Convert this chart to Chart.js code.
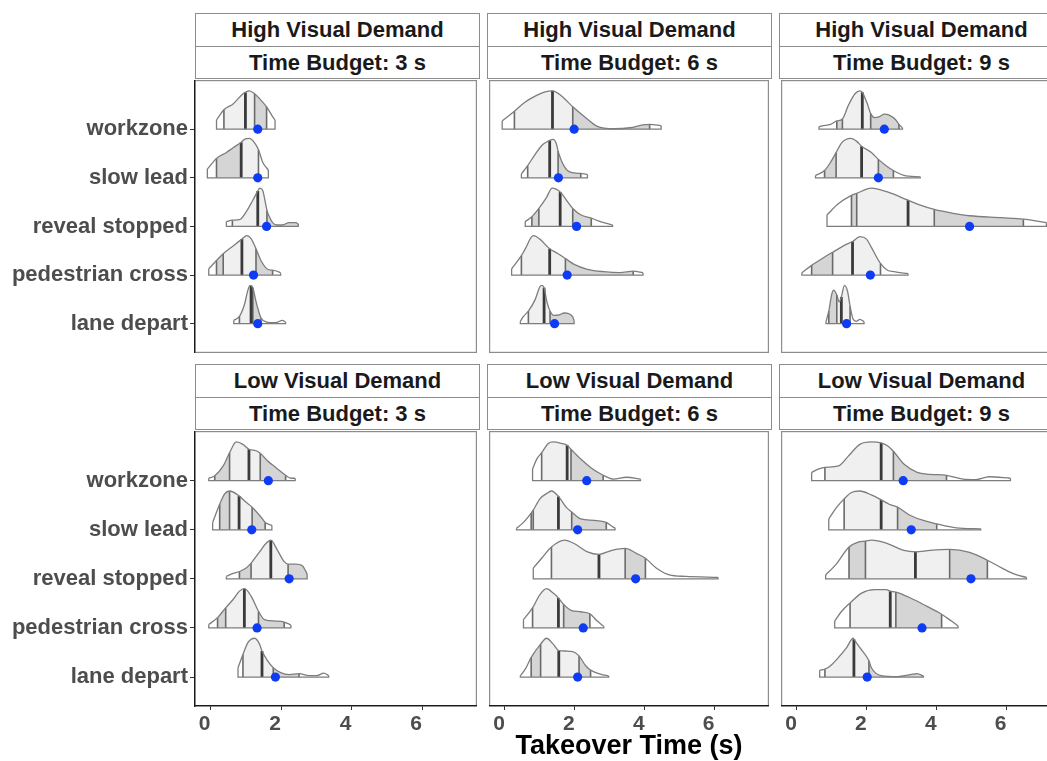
<!DOCTYPE html>
<html>
<head>
<meta charset="utf-8">
<script src="https://cdn.jsdelivr.net/npm/chart.js@4"></script>
<style>
  html, body { margin: 0; padding: 0; background: #fff; width: 1047px; height: 761px; overflow: hidden; }
  #stage { position: relative; width: 1047px; height: 761px; overflow: hidden; font-family: "Liberation Sans", Arial, sans-serif; }
  canvas { position: absolute; }
  .strip { position: absolute; box-sizing: border-box; border: 1px solid #8c8c8c; background: #fff;
           display: flex; align-items: center; justify-content: center;
           font-weight: bold; font-size: 22px; color: #1a1a1a; white-space: nowrap; }
  #xtitle { position: absolute; left: 195px; width: 868px; top: 732px; line-height: 27px; text-align: center;
            font-weight: bold; font-size: 27px; color: #000; }
</style>
</head>
<body>
<div id="stage"></div>
<script>
// ---- categories and labels ----
const rowOrder = ['workzone', 'slow lead', 'reveal stopped', 'pedestrian cross', 'lane depart'];
const demandLabels = ['High Visual Demand', 'Low Visual Demand'];
const budgetLabels = ['Time Budget: 3 s', 'Time Budget: 6 s', 'Time Budget: 9 s'];
const xTicks = [0, 2, 4, 6];
const xTitle = 'Takeover Time (s)';

// Each curve: [takeover time, ridge height] along the top of the density, listed workzone -> lane depart.
// Cuts: quantile lines; shades: fill of each band between cuts (w = white, l = light, g = grey).

// High visual demand, 3 s budget
const hv3Curves = [
  [[0.17,0.19],[0.38,0.40],[0.64,0.52],[0.92,0.73],[0.99,0.76],[1.10,0.79],[1.25,0.73],[1.39,0.63],[1.59,0.46],[1.76,0.26],[1.83,0.19]],
  [[-0.09,0.18],[0.17,0.40],[0.45,0.52],[0.64,0.62],[0.87,0.73],[0.96,0.79],[1.10,0.81],[1.25,0.72],[1.36,0.58],[1.48,0.32],[1.64,0.16]],
  [[0.45,0.10],[0.62,0.13],[0.82,0.14],[1.01,0.30],[1.20,0.54],[1.34,0.73],[1.40,0.79],[1.48,0.74],[1.57,0.44],[1.60,0.33],[1.67,0.20],[1.76,0.08],[1.90,0.03],[2.04,0.03],[2.23,0.08],[2.42,0.08],[2.49,0.05]],
  [[-0.05,0.13],[0.17,0.30],[0.36,0.44],[0.64,0.60],[0.89,0.74],[1.03,0.81],[1.15,0.75],[1.29,0.54],[1.43,0.30],[1.62,0.12],[1.76,0.10],[1.95,0.06],[1.99,0.04]],
  [[0.66,0.07],[0.82,0.15],[0.96,0.39],[1.06,0.69],[1.12,0.79],[1.15,0.78],[1.20,0.74],[1.27,0.52],[1.34,0.32],[1.43,0.12],[1.57,0.04],[1.85,0.02],[2.04,0.07],[2.13,0.03]]
];
const hv3Cuts = [[0.38,0.99,1.25,1.59],[0.17,0.87,1.36],[0.62,1.34,1.60],[0.17,0.36,0.89,1.29,1.76],[0.82,1.15,1.20,1.43]];
const hv3Medians = [0.99, 0.87, 1.34, 0.89, 1.15];
const hv3Shades = ['wllgw', 'wglw', 'wllg', 'wgllgw', 'wllgw'];
const hv3Means = [1.34, 1.34, 1.59, 1.22, 1.34];

// High visual demand, 6 s budget
const hv6Curves = [
  [[-0.08,0.17],[0.27,0.37],[0.58,0.56],[0.95,0.71],[1.15,0.77],[1.36,0.79],[1.61,0.69],[1.94,0.46],[2.27,0.26],[2.64,0.06],[3.11,0.01],[3.58,0.03],[3.95,0.09],[4.14,0.10],[4.47,0.07]],
  [[0.47,0.08],[0.65,0.25],[0.86,0.48],[1.09,0.69],[1.28,0.77],[1.38,0.79],[1.47,0.70],[1.52,0.55],[1.70,0.23],[1.89,0.11],[2.17,0.09],[2.36,0.07]],
  [[0.58,0.10],[0.77,0.20],[0.97,0.37],[1.19,0.60],[1.35,0.79],[1.58,0.71],[1.80,0.50],[1.94,0.37],[2.17,0.24],[2.47,0.17],[2.73,0.10],[3.08,0.03]],
  [[0.19,0.13],[0.47,0.40],[0.58,0.54],[0.81,0.81],[1.00,0.74],[1.28,0.54],[1.52,0.44],[1.73,0.34],[1.98,0.22],[2.36,0.12],[2.83,0.07],[3.29,0.05],[3.67,0.08],[3.95,0.05]],
  [[0.44,0.05],[0.53,0.15],[0.67,0.26],[0.86,0.49],[1.00,0.76],[1.05,0.79],[1.12,0.74],[1.20,0.45],[1.29,0.26],[1.40,0.17],[1.55,0.18],[1.70,0.22],[1.82,0.21],[1.94,0.14],[1.98,0.06]]
];
const hv6Cuts = [[0.27,1.36,1.94,4.14],[0.65,1.28,1.52,2.17],[0.77,0.97,1.58,1.94,2.47],[0.47,1.28,1.73,3.67],[0.67,1.12,1.29]];
const hv6Medians = [1.36, 1.28, 1.58, 1.28, 1.12];
const hv6Shades = ['wllgw', 'wllgw', 'wgllgw', 'wllgw', 'wllg'];
const hv6Means = [1.98, 1.53, 2.05, 1.78, 1.42];

// High visual demand, 9 s budget
const hv9Curves = [
  [[0.63,0.05],[0.72,0.07],[0.96,0.10],[1.14,0.17],[1.30,0.21],[1.47,0.49],[1.66,0.73],[1.80,0.79],[1.87,0.76],[2.03,0.49],[2.11,0.32],[2.22,0.24],[2.36,0.26],[2.50,0.31],[2.64,0.29],[2.83,0.19],[2.92,0.10],[3.02,0.03]],
  [[0.53,0.05],[0.79,0.15],[0.96,0.32],[1.12,0.52],[1.28,0.72],[1.54,0.81],[1.71,0.75],[1.85,0.65],[2.13,0.52],[2.33,0.38],[2.55,0.25],[2.76,0.15],[3.06,0.05],[3.53,0.02]],
  [[0.86,0.24],[1.19,0.47],[1.56,0.64],[1.71,0.68],[2.13,0.79],[2.59,0.71],[3.18,0.54],[3.53,0.44],[3.93,0.35],[4.47,0.27],[4.94,0.22],[5.87,0.18],[6.48,0.15],[7.14,0.08]],
  [[0.14,0.05],[0.42,0.20],[0.72,0.34],[1.02,0.47],[1.33,0.60],[1.59,0.69],[1.80,0.79],[1.99,0.74],[2.13,0.57],[2.39,0.24],[2.59,0.10],[2.78,0.07],[3.06,0.04],[3.18,0.03]],
  [[0.83,0.04],[0.91,0.26],[1.00,0.62],[1.05,0.69],[1.14,0.59],[1.21,0.45],[1.27,0.55],[1.36,0.79],[1.45,0.66],[1.52,0.36],[1.61,0.09],[1.71,0.05],[1.80,0.09],[1.92,0.04]]
];
const hv9Cuts = [[1.14,1.30,1.87,2.11,2.92],[0.79,1.12,1.85,2.33,2.76],[1.56,1.71,3.18,3.93,6.48],[0.42,1.02,1.59,2.39],[0.91,1.14,1.27,1.52]];
const hv9Medians = [1.87, 1.85, 3.18, 1.59, 1.27];
const hv9Shades = ['wgllgw', 'wgllgw', 'wgllgw', 'wgllw', 'wgllw'];
const hv9Means = [2.50, 2.33, 4.94, 2.10, 1.42];

// Low visual demand, 3 s budget
const lv3Curves = [
  [[-0.05,0.05],[0.12,0.10],[0.36,0.30],[0.54,0.57],[0.73,0.79],[0.92,0.74],[1.09,0.64],[1.29,0.61],[1.41,0.56],[1.62,0.40],[1.85,0.27],[2.13,0.11],[2.28,0.05],[2.40,0.05]],
  [[0.06,0.15],[0.26,0.52],[0.40,0.73],[0.54,0.79],[0.81,0.69],[1.01,0.56],[1.18,0.46],[1.43,0.26],[1.55,0.15],[1.74,0.09]],
  [[0.45,0.05],[0.64,0.11],[0.82,0.15],[1.01,0.22],[1.15,0.32],[1.39,0.55],[1.57,0.72],[1.71,0.79],[1.90,0.58],[2.09,0.35],[2.20,0.30],[2.42,0.30],[2.60,0.27],[2.74,0.10]],
  [[-0.05,0.07],[0.20,0.21],[0.43,0.41],[0.64,0.58],[0.82,0.75],[0.96,0.80],[1.15,0.65],[1.36,0.34],[1.53,0.17],[1.85,0.14],[2.09,0.12],[2.28,0.06]],
  [[0.78,0.19],[0.92,0.46],[1.06,0.70],[1.25,0.79],[1.39,0.67],[1.46,0.53],[1.62,0.33],[1.78,0.19],[1.99,0.09],[2.23,0.05],[2.51,0.07],[2.79,0.03],[3.02,0.03],[3.21,0.08],[3.35,0.03]]
];
const lv3Cuts = [[0.12,0.54,1.09,1.41,2.13],[0.26,0.54,0.81,1.18,1.55],[0.82,1.15,1.71,2.20],[0.20,0.43,0.96,1.36,2.09],[0.92,1.46,1.78,2.51]];
const lv3Medians = [1.09, 0.81, 1.71, 0.96, 1.46];
const lv3Shades = ['wgllgw', 'wgllgw', 'wgllg', 'wgllgw', 'wllgw'];
const lv3Means = [1.64, 1.17, 2.23, 1.32, 1.84];

// Low visual demand, 6 s budget
const lv6Curves = [
  [[0.79,0.24],[0.91,0.44],[1.05,0.57],[1.24,0.76],[1.38,0.79],[1.61,0.76],[1.78,0.72],[1.89,0.64],[2.17,0.44],[2.45,0.27],[2.81,0.11],[3.11,0.03],[3.48,0.07],[3.88,0.03]],
  [[0.33,0.03],[0.53,0.15],[0.75,0.34],[0.81,0.40],[1.00,0.63],[1.24,0.76],[1.33,0.79],[1.53,0.68],[1.75,0.46],[1.91,0.36],[2.17,0.22],[2.55,0.19],[2.90,0.15],[3.11,0.05],[3.15,0.04]],
  [[0.81,0.22],[1.05,0.42],[1.33,0.65],[1.70,0.79],[1.98,0.72],[2.36,0.55],[2.69,0.50],[3.06,0.58],[3.44,0.62],[3.76,0.52],[4.02,0.42],[4.33,0.22],[4.70,0.08],[5.17,0.05],[6.10,0.03]],
  [[0.53,0.17],[0.79,0.41],[1.00,0.68],[1.19,0.80],[1.38,0.71],[1.53,0.61],[1.68,0.48],[1.89,0.36],[2.17,0.33],[2.43,0.29],[2.64,0.14],[2.83,0.03]],
  [[0.44,0.03],[0.58,0.16],[0.75,0.40],[1.02,0.67],[1.19,0.79],[1.38,0.67],[1.54,0.54],[1.75,0.53],[1.94,0.52],[2.12,0.43],[2.31,0.23],[2.45,0.14],[2.73,0.06],[2.97,0.02]]
];
const lv6Cuts = [[1.05,1.78,1.89,2.81],[0.75,0.81,1.53,1.91,2.90],[1.33,2.69,3.44,4.02],[0.79,1.53,1.68,2.43],[0.75,1.02,1.54,2.12,2.45]];
const lv6Medians = [1.78, 1.53, 2.69, 1.53, 1.54];
const lv6Shades = ['wllgw', 'wgllgw', 'wllgw', 'wllgw', 'wgllgw'];
const lv6Means = [2.34, 2.08, 3.74, 2.24, 2.08];

// Low visual demand, 9 s budget
const lv9Curves = [
  [[0.42,0.17],[0.63,0.24],[0.80,0.27],[1.19,0.30],[1.47,0.50],[1.80,0.74],[2.13,0.79],[2.41,0.77],[2.59,0.71],[2.76,0.60],[3.06,0.34],[3.44,0.17],[3.81,0.13],[4.28,0.11],[4.75,0.03],[5.12,0.02],[5.50,0.08],[6.11,0.05]],
  [[0.91,0.22],[1.14,0.46],[1.35,0.63],[1.56,0.76],[1.80,0.79],[2.13,0.71],[2.41,0.61],[2.64,0.52],[2.88,0.46],[3.25,0.29],[3.62,0.19],[4.00,0.12],[4.56,0.04],[5.26,0.02]],
  [[0.82,0.08],[1.10,0.28],[1.49,0.65],[1.75,0.75],[1.96,0.77],[2.13,0.79],[2.59,0.72],[3.06,0.58],[3.39,0.55],[3.81,0.58],[4.37,0.60],[4.94,0.54],[5.45,0.38],[5.87,0.22],[6.25,0.09],[6.57,0.03]],
  [[1.08,0.14],[1.28,0.34],[1.52,0.51],[1.85,0.71],[2.22,0.78],[2.55,0.78],[2.67,0.75],[2.83,0.73],[3.25,0.61],[3.72,0.44],[4.14,0.28],[4.42,0.14],[4.61,0.04]],
  [[0.65,0.14],[0.80,0.16],[0.96,0.23],[1.19,0.40],[1.42,0.60],[1.61,0.79],[1.63,0.77],[1.80,0.60],[2.06,0.33],[2.13,0.19],[2.41,0.03],[2.88,0.01],[3.25,0.05],[3.44,0.07],[3.62,0.02]]
];
const lv9Cuts = [[0.80,2.41,2.76,4.28],[1.35,2.41,2.88,4.00],[1.49,1.96,3.39,4.37,5.45],[1.52,2.67,2.83,4.14],[0.80,1.63,2.06]];
const lv9Medians = [2.41, 2.41, 3.39, 2.67, 1.63];
const lv9Shades = ['wllgw', 'wllgw', 'wgllgw', 'wllgw', 'wllg'];
const lv9Means = [3.04, 3.27, 4.98, 3.58, 2.01];

// ---- facet table (row-major: demand rows, budget columns) ----
const panels = [
  { curves: hv3Curves, cuts: hv3Cuts, medians: hv3Medians, shades: hv3Shades, means: hv3Means },
  { curves: hv6Curves, cuts: hv6Cuts, medians: hv6Medians, shades: hv6Shades, means: hv6Means },
  { curves: hv9Curves, cuts: hv9Cuts, medians: hv9Medians, shades: hv9Shades, means: hv9Means },
  { curves: lv3Curves, cuts: lv3Cuts, medians: lv3Medians, shades: lv3Shades, means: lv3Means },
  { curves: lv6Curves, cuts: lv6Cuts, medians: lv6Medians, shades: lv6Shades, means: lv6Means },
  { curves: lv9Curves, cuts: lv9Cuts, medians: lv9Medians, shades: lv9Shades, means: lv9Means }
];

// ---- styling & geometry ----
const FONT = '"Liberation Sans", Arial, sans-serif';
const shadeColors = { w: '#ffffff', l: '#f0f0f0', g: '#d5d5d5' };
const outlineColor = '#7d7d7d';
const meanColor = '#0e3cf4';
const colLeft = [195, 487, 779];
const rowTop = [78, 429];
const panelW = 284, panelH = 277;
const yAxisW = 195, xAxisH = 56, pad = 2;

Chart.defaults.font.family = FONT;

const stage = document.getElementById('stage');

// gray frame around each panel, drawn beneath the axis lines
const panelFrame = {
  id: 'panelFrame',
  beforeDraw(chart) {
    const { ctx, chartArea: a } = chart;
    ctx.save();
    ctx.strokeStyle = '#8c8c8c';
    ctx.lineWidth = 1.2;
    ctx.strokeRect(a.left, a.top, a.right - a.left, a.bottom - a.top);
    ctx.restore();
  }
};

function ridgeDatasets(panel) {
  const out = [];
  const n = rowOrder.length;
  panel.curves.forEach((pts, i) => {
    const base = n - i;
    const toXY = p => ({ x: p[0], y: base + p[1] });
    const first = pts[0], last = pts[pts.length - 1];
    const bounds = [first[0], ...panel.cuts[i], last[0]];
    const shades = panel.shades[i];
    // shaded bands between quantiles
    for (let s = 0; s < bounds.length - 1; s++) {
      const seg = pts.filter(p => p[0] >= bounds[s] && p[0] <= bounds[s + 1]);
      out.push({
        data: seg.map(toXY), fill: { value: base },
        backgroundColor: shadeColors[shades[s]], borderWidth: 0, borderColor: 'rgba(0,0,0,0)',
        pointRadius: 0, cubicInterpolationMode: 'monotone', order: 5
      });
    }
    // quantile lines (median heavier)
    panel.cuts[i].forEach(cx => {
      const p = pts.find(q => q[0] === cx);
      const isMed = cx === panel.medians[i];
      out.push({
        data: [{ x: cx, y: base }, { x: cx, y: base + p[1] }],
        borderColor: isMed ? '#3a3a3a' : '#6a6a6a', borderWidth: isMed ? 2.8 : 1.6,
        pointRadius: 0, fill: false, tension: 0, order: isMed ? 2 : 3
      });
    });
    // density outline
    out.push({
      data: pts.map(toXY), borderColor: outlineColor, borderWidth: 1.3, fill: false,
      pointRadius: 0, cubicInterpolationMode: 'monotone', order: 1
    });
    // sides and baseline
    out.push({
      data: [{ x: first[0], y: base + first[1] }, { x: first[0], y: base }, { x: last[0], y: base }, { x: last[0], y: base + last[1] }],
      borderColor: outlineColor, borderWidth: 1.3, fill: false, pointRadius: 0, tension: 0, order: 1
    });
  });
  // means
  out.push({
    data: panel.means.map((m, i) => ({ x: m, y: n - i })),
    showLine: false, pointRadius: 4.6, pointBackgroundColor: meanColor, pointBorderWidth: 0,
    borderColor: meanColor, order: 0
  });
  return out;
}

function makeStrip(text, left, top, height) {
  const d = document.createElement('div');
  d.className = 'strip';
  d.style.left = left + 'px';
  d.style.top = top + 'px';
  d.style.width = (panelW + 1) + 'px';
  d.style.height = height + 'px';
  d.textContent = text;
  stage.appendChild(d);
}

for (let r = 0; r < 2; r++) {
  for (let c = 0; c < 3; c++) {
    const panel = panels[r * 3 + c];
    const showY = c === 0, showX = r === 1;
    const cLeft = showY ? colLeft[c] - yAxisW : colLeft[c] - pad;
    const cTop = rowTop[r] - pad;
    const cW = (colLeft[c] - cLeft) + panelW + pad;
    const cH = pad + panelH + (showX ? xAxisH : pad);

    const canvas = document.createElement('canvas');
    canvas.width = cW; canvas.height = cH;
    canvas.style.left = cLeft + 'px'; canvas.style.top = cTop + 'px';
    canvas.style.width = cW + 'px'; canvas.style.height = cH + 'px';
    stage.appendChild(canvas);

    new Chart(canvas, {
      type: 'line',
      data: { datasets: ridgeDatasets(panel) },
      options: {
        responsive: false, animation: false, devicePixelRatio: 1, events: [],
        layout: { padding: { left: showY ? 0 : pad, top: pad, right: pad, bottom: showX ? 0 : pad } },
        plugins: { legend: { display: false }, tooltip: { enabled: false } },
        scales: {
          x: {
            type: 'linear', min: -0.44, max: 7.54, display: showX,
            afterBuildTicks: s => { s.ticks = xTicks.map(v => ({ value: v })); },
            afterFit: s => { s.height = showX ? xAxisH : 0; s.paddingLeft = 0; s.paddingRight = 0; },
            grid: { display: true, drawOnChartArea: false, drawTicks: true, tickLength: 4, color: '#333333', lineWidth: 1 },
            border: { display: true, color: '#1a1a1a', width: 1.3 },
            ticks: { font: { size: 21, weight: 'bold', family: FONT }, color: '#4d4d4d', padding: 2,
                     labelOffset: -6, maxRotation: 0, autoSkip: false, callback: v => String(v) }
          },
          y: {
            type: 'linear', min: 0.41, max: 6.0, display: showY,
            afterBuildTicks: s => { s.ticks = rowOrder.map((_, i) => ({ value: rowOrder.length - i })); },
            afterFit: s => { s.width = showY ? yAxisW : 0; s.paddingTop = 0; s.paddingBottom = 0; },
            grid: { display: true, drawOnChartArea: false, drawTicks: true, tickLength: 5, color: '#333333', lineWidth: 1 },
            border: { display: true, color: '#1a1a1a', width: 1.3 },
            ticks: { font: { size: 22, weight: 'bold', family: FONT }, color: '#4d4d4d', padding: 2,
                     autoSkip: false, callback: v => rowOrder[rowOrder.length - v] }
          }
        }
      },
      plugins: [panelFrame]
    });

    // facet strips
    const stripTop = r === 0 ? 13 : 364;
    makeStrip(demandLabels[r], colLeft[c], stripTop, 34);
    makeStrip(budgetLabels[c], colLeft[c], stripTop + 33, 33);
  }
}

const t = document.createElement('div');
t.id = 'xtitle';
t.textContent = xTitle;
stage.appendChild(t);
</script>
</body>
</html>
